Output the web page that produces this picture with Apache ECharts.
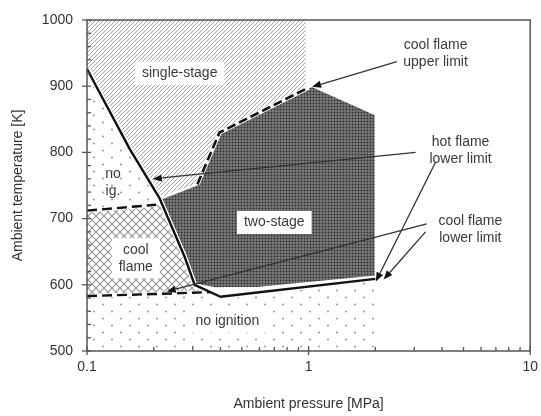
<!DOCTYPE html>
<html><head><meta charset="utf-8">
<script src="https://cdn.jsdelivr.net/npm/echarts@6/dist/echarts.min.js"></script>
<style>html,body{margin:0;padding:0;background:#fff}#c{width:541px;height:416px}</style>
</head><body><div id="c"></div>
<script>
// ---- data (pressure MPa, temperature K) ----
const xMajorTicks = [0.1, 1, 10];
const xMinorTicks = [0.2,0.3,0.4,0.5,0.6,0.7,0.8,0.9,2,3,4,5,6,7,8,9];
const yMajorTicks = [500, 600, 700, 800, 900, 1000];
const yMinorTicks = [520,540,560,580,620,640,660,680,720,740,760,780,820,840,860,880,920,940,960,980];

const singleStage = [[0.1,1000],[0.97,1000],[0.97,895],[0.396,830],[0.315,752],[0.213,730],[0.156,805],[0.1,926]];
const twoStage    = [[0.213,730],[0.315,752],[0.396,830],[1.037,900],[2.0,857],[2.0,613],[0.6,596],[0.38,595],[0.306,601],[0.276,642]];
const coolFlame   = [[0.1,712],[0.218,722],[0.276,642],[0.306,600],[0.36,589],[0.2,586],[0.1,583]];
const noIgUpper   = [[0.1,926],[0.156,805],[0.213,730],[0.218,722],[0.1,712]];
const noIgnition  = [[0.1,500],[2.0,500],[2.0,609],[0.4,582],[0.36,589],[0.2,586],[0.1,583]];

const hotFlameLine   = [[0.1,926],[0.156,805],[0.213,730],[0.276,642],[0.306,600],[0.4,582],[2.0,609]];
const stageBoundary  = [[0.213,730],[0.315,752]];
const coolUpperLow   = [[0.1,712],[0.205,721]];
const coolUpperHigh  = [[0.315,752],[0.396,830],[1.0,898]];
const coolLowerLine  = [[0.1,583],[0.2,586],[0.36,589]];

const arrowStarts = [[2.5,937],[3.04,800],[3.74,785],[3.41,692],[3.37,680]];
const arrowEnds   = [[1.037,899],[0.198,760],[2.01,605],[0.229,590],[2.18,608]];

const labelTexts = ['single-stage','no\nig.','cool\nflame','two-stage','no ignition','cool flame\nupper limit','hot flame\nlower limit','cool flame\nlower limit'];
const labelPos   = [[0.262,920],[0.131,755],[0.166,640],[0.70,694],[0.43,545],[3.74,949],[4.85,803],[5.37,683]];
const labelBoxed = [true,false,true,true,true,false,false,false];

// ---- patterns ----
function tile(w,h,draw){const c=document.createElement('canvas');c.width=w;c.height=h;const g=c.getContext('2d');draw(g,w,h);return {image:c,repeat:'repeat'};}
const hatchPat = tile(4,4,(g)=>{g.fillStyle='#fff';g.fillRect(0,0,4,4);g.strokeStyle='#a2a2a2';g.lineWidth=1;
  g.beginPath();g.moveTo(-1,5);g.lineTo(5,-1);g.moveTo(-1,1);g.lineTo(1,-1);g.moveTo(3,5);g.lineTo(5,3);g.stroke();});
const crossPat = tile(8,8,(g)=>{g.fillStyle='#fff';g.fillRect(0,0,8,8);g.strokeStyle='#989898';g.lineWidth=1.2;
  g.beginPath();g.moveTo(0,0);g.lineTo(8,8);g.moveTo(8,0);g.lineTo(0,8);g.stroke();});
const dotPat = tile(18,14,(g)=>{g.fillStyle='#fff';g.fillRect(0,0,18,14);g.fillStyle='#8c8c8c';
  g.beginPath();g.arc(4,3.5,0.9,0,Math.PI*2);g.arc(13,10.5,0.9,0,Math.PI*2);g.fill();});
const darkPat = tile(3,3,(g)=>{g.fillStyle='#7c7c7c';g.fillRect(0,0,3,3);g.fillStyle='#2e2e2e';
  g.beginPath();g.arc(1.5,1.5,0.95,0,Math.PI*2);g.fill();});

// ---- helpers ----
let zc = 1;
function polySeries(pts, style){
  return {type:'custom', data:pts, z: zc++, silent:true, clip:false,
    renderItem:(p,api)=> p.dataIndex!==0 ? null : {type:'polygon', shape:{points:pts.map(d=>api.coord(d))}, style:style}};
}
function lineSeries(pts, style){
  return {type:'custom', data:pts, z: zc++, silent:true, clip:false,
    renderItem:(p,api)=> p.dataIndex!==0 ? null : {type:'polyline', shape:{points:pts.map(d=>api.coord(d))}, style:Object.assign({fill:null},style)}};
}

const series = [
  polySeries(noIgnition, {fill:dotPat}),
  polySeries(noIgUpper, {fill:dotPat}),
  polySeries(coolFlame, {fill:crossPat}),
  polySeries(singleStage, {fill:hatchPat}),
  polySeries(twoStage, {fill:darkPat, stroke:'#fff', lineWidth:1.5}),
  lineSeries(stageBoundary, {stroke:'#fff', lineWidth:2.5}),
  lineSeries(hotFlameLine, {stroke:'#fff', lineWidth:5, lineJoin:'round'}),
  lineSeries(coolUpperHigh, {stroke:'#fff', lineWidth:4.5}),
  lineSeries(coolUpperLow, {stroke:'#fff', lineWidth:4}),
  lineSeries(coolLowerLine, {stroke:'#fff', lineWidth:4}),
  lineSeries(hotFlameLine, {stroke:'#111', lineWidth:2.4, lineJoin:'round'}),
  lineSeries(coolUpperHigh, {stroke:'#111', lineWidth:2.6, lineDash:[9,4]}),
  lineSeries(coolUpperLow, {stroke:'#111', lineWidth:2.4, lineDash:[10,5]}),
  lineSeries(coolLowerLine, {stroke:'#111', lineWidth:2.4, lineDash:[10,5]}),
  // arrows
  {type:'custom', data:arrowStarts, z:zc++, silent:true, clip:false,
   renderItem:(p,api)=>{
     const s=api.coord(arrowStarts[p.dataIndex]), e=api.coord(arrowEnds[p.dataIndex]);
     const a=Math.atan2(e[1]-s[1], e[0]-s[0]), L=9, W=3.6;
     const b=[e[0]-L*Math.cos(a), e[1]-L*Math.sin(a)];
     const l=[b[0]+W*Math.sin(a), b[1]-W*Math.cos(a)], r=[b[0]-W*Math.sin(a), b[1]+W*Math.cos(a)];
     return {type:'group', children:[
       {type:'line', shape:{x1:s[0],y1:s[1],x2:b[0],y2:b[1]}, style:{stroke:'#333',lineWidth:1.3}},
       {type:'polygon', shape:{points:[e,l,r]}, style:{fill:'#111'}}]};
   }},
  // labels
  {type:'custom', data:labelPos, z:zc++, silent:true, clip:false,
   renderItem:(p,api)=>{
     const c=api.coord(labelPos[p.dataIndex]); const boxed=labelBoxed[p.dataIndex];
     return {type:'text', style:{text:labelTexts[p.dataIndex], x:c[0], y:c[1], fill:'#3a3a3a',
       font:'14px "Liberation Sans", Arial, sans-serif', align:'center', verticalAlign:'middle', lineHeight:17,
       backgroundColor: boxed?'#fff':null, padding: boxed?[3,7,3,7]:0}};
   }},
  // frame
  {type:'custom', data:[[0.1,1000]], z:zc++, silent:true, clip:false,
   renderItem:(p,api)=>{const a=api.coord([0.1,1000]), b=api.coord([10,500]);
     return {type:'polyline', shape:{points:[[a[0],b[1]],[a[0],a[1]],[b[0],a[1]],[b[0],b[1]],[a[0],b[1]]]}, style:{stroke:'#555',lineWidth:1.5,fill:null}};}},
  // x ticks
  {type:'custom', data:xMajorTicks.concat(xMinorTicks).map(v=>[v,500]), z:zc++, silent:true, clip:false,
   renderItem:(p,api)=>{const n=xMajorTicks.length; const major=p.dataIndex<n;
     const v=major?xMajorTicks[p.dataIndex]:xMinorTicks[p.dataIndex-n]; const c=api.coord([v,500]);
     return {type:'line', shape:{x1:c[0],y1:c[1]-(major?5:4),x2:c[0],y2:c[1]+(major?4:0)}, style:{stroke:'#555',lineWidth:1.3}};}},
  // y ticks
  {type:'custom', data:yMajorTicks.concat(yMinorTicks).map(v=>[0.1,v]), z:zc++, silent:true, clip:false,
   renderItem:(p,api)=>{const n=yMajorTicks.length; const major=p.dataIndex<n;
     const v=major?yMajorTicks[p.dataIndex]:yMinorTicks[p.dataIndex-n]; const c=api.coord([0.1,v]);
     return {type:'line', shape:{x1:c[0]-(major?5:0),y1:c[1],x2:c[0]+4,y2:c[1]}, style:{stroke:'#555',lineWidth:1.3}};}}
];

const chart = echarts.init(document.getElementById('c'), null, {renderer:'canvas'});
chart.setOption({
  animation:false,
  backgroundColor:'#fff',
  textStyle:{fontFamily:'"Liberation Sans", Arial, sans-serif'},
  grid:{left:87, right:9, top:20, bottom:63, containLabel:false},
  xAxis:{type:'log', logBase:10, min:0.1, max:10,
    name:'Ambient pressure [MPa]', nameLocation:'middle', nameGap:46,
    nameTextStyle:{fontSize:14, color:'#333'},
    axisLine:{show:false}, axisTick:{show:false}, splitLine:{show:false},
    axisLabel:{fontSize:14, color:'#333', margin:9, formatter:v=>String(v)}},
  yAxis:{type:'value', min:500, max:1000, interval:100,
    name:'Ambient temperature [K]', nameLocation:'middle', nameGap:62,
    nameTextStyle:{fontSize:14, color:'#333'},
    axisLine:{show:false}, axisTick:{show:false}, splitLine:{show:false},
    axisLabel:{fontSize:14, color:'#333', margin:14, formatter:v=>String(v)}},
  series: series
});
</script></body></html>
